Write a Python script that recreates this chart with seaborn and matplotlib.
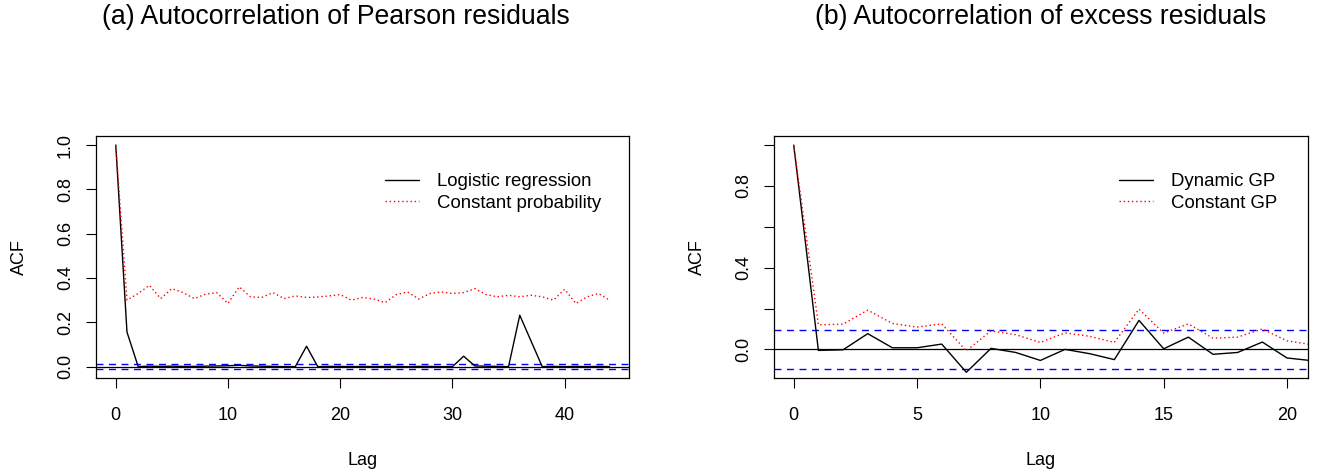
import numpy as np
import pandas as pd
import matplotlib
matplotlib.use("Agg")
import matplotlib.pyplot as plt
import seaborn as sns
from matplotlib.lines import Line2D

# ---- data ----
lags_a = list(range(45))
logistic_acf = [1.0, 0.156, 0.0, 0.002, 0.001, 0.002, 0.001, 0.001, 0.002, 0.003,
                0.004, 0.006, 0.003, 0.002, 0.001, 0.0, 0.0, 0.092, 0.0, 0.001,
                0.001, 0.0, 0.001, 0.0, 0.001, 0.001, 0.0, 0.001, 0.001, 0.0,
                0.0, 0.047, 0.003, 0.002, 0.001, 0.0, 0.232, 0.116, 0.0, 0.001,
                0.0, 0.001, 0.0, 0.001, 0.0]
constprob_acf = [1.0, 0.30, 0.33, 0.367, 0.307, 0.352, 0.334, 0.307, 0.327, 0.334,
                 0.285, 0.36, 0.315, 0.312, 0.334, 0.307, 0.319, 0.312, 0.314, 0.319,
                 0.325, 0.30, 0.312, 0.305, 0.289, 0.325, 0.337, 0.305, 0.330, 0.337,
                 0.330, 0.334, 0.352, 0.325, 0.315, 0.322, 0.315, 0.322, 0.315, 0.30,
                 0.349, 0.285, 0.315, 0.330, 0.30]
ci_a = 0.012

lags_b = list(range(22))
dynamic_acf = [1.0, -0.005, -0.002, 0.077, 0.008, 0.008, 0.026, -0.112, 0.005, -0.015,
               -0.054, 0.0, -0.021, -0.05, 0.142, 0.003, 0.06, -0.024, -0.015, 0.036,
               -0.042, -0.055]
constgp_acf = [1.0, 0.12, 0.124, 0.192, 0.127, 0.109, 0.125, -0.007, 0.091, 0.072,
               0.034, 0.081, 0.064, 0.034, 0.197, 0.08, 0.125, 0.055, 0.06, 0.10,
               0.042, 0.023]
ci_b = 0.095

titles = ["(a) Autocorrelation of Pearson residuals",
          "(b) Autocorrelation of excess residuals"]
legend_a = ["Logistic regression", "Constant probability"]
legend_b = ["Dynamic GP", "Constant GP"]

# ---- style ----
sns.set_style("white")
plt.rcParams['font.family'] = ['Liberation Sans', 'DejaVu Sans']
for k in ["text.color", "axes.labelcolor", "xtick.color", "ytick.color"]:
    plt.rcParams[k] = "black"

W, H = 1318, 472
fig = plt.figure(figsize=(W / 100, H / 100), dpi=100)

def fx(px):
    return px / W

def fy(py):
    return 1 - py / H

ax_a = fig.add_axes([fx(96), fy(377.7), fx(629.3 - 96), (377.7 - 135.7) / H])
ax_b = fig.add_axes([fx(774), fy(378), fx(1307.7 - 774), (378 - 135.7) / H])

def draw(ax, lags, s1, s2, labels, ci, xlim, ylim, xticks, yticks, yticklabels, leg_x):
    df = pd.DataFrame({"lag": lags + lags,
                       "acf": s1 + s2,
                       "series": [labels[0]] * len(lags) + [labels[1]] * len(lags)})
    sns.lineplot(data=df, x="lag", y="acf", hue="series", style="series",
                 palette={labels[0]: "black", labels[1]: "red"},
                 dashes={labels[0]: "", labels[1]: (1, 2)},
                 linewidth=1.0, ax=ax, legend=False)
    ax.axhline(0, color="black", lw=0.9, zorder=1)
    ax.axhline(ci, color="blue", lw=1.0, ls=(0, (5, 4)), zorder=1)
    ax.axhline(-ci, color="blue", lw=1.0, ls=(0, (5, 4)), zorder=1)
    ax.set_xlim(*xlim)
    ax.set_ylim(*ylim)
    ax.set_xticks(xticks)
    ax.set_xticklabels([str(t) for t in xticks], fontsize=13)
    ax.set_yticks(yticks)
    ax.set_yticklabels(yticklabels, fontsize=13, rotation=90, va="center")
    ax.tick_params(axis="both", direction="out", length=7, width=0.8, color="black",
                   bottom=True, left=True, top=False, right=False)
    ax.tick_params(axis="x", pad=14)
    ax.tick_params(axis="y", pad=9)
    for sp in ax.spines.values():
        sp.set_visible(True)
        sp.set_color("black")
        sp.set_linewidth(0.9)
    ax.set_xlabel("Lag", fontsize=13, labelpad=20)
    ax.set_ylabel("ACF", fontsize=13, labelpad=21)
    handles = [Line2D([], [], color="black", lw=1.0),
               Line2D([], [], color="red", lw=1.0, ls=(0, (1, 2)))]
    ax.legend(handles, labels, loc="upper left", bbox_to_anchor=(leg_x, 0.845),
              frameon=False, fontsize=13.4, handlelength=1.85, handletextpad=0.95,
              labelspacing=0.25, borderpad=0, borderaxespad=0)

draw(ax_a, lags_a, logistic_acf, constprob_acf, legend_a, ci_a,
     (-1.76, 45.76), (-0.05, 1.042), [0, 10, 20, 30, 40],
     [0.0, 0.2, 0.4, 0.6, 0.8, 1.0], ["0.0", "0.2", "0.4", "0.6", "0.8", "1.0"],
     0.542)
draw(ax_b, lags_b, dynamic_acf, constgp_acf, legend_b, ci_b,
     (-0.8, 20.84), (-0.14, 1.046), [0, 5, 10, 15, 20],
     [0.0, 0.2, 0.4, 0.6, 0.8, 1.0], ["0.0", "", "0.4", "", "0.8", ""],
     0.646)

fig.text(fx(336), fy(17), titles[0], fontsize=19.2, ha="center", va="center")
fig.text(fx(1041), fy(17), titles[1], fontsize=19.2, ha="center", va="center")

fig.savefig("out.png", dpi=100)
